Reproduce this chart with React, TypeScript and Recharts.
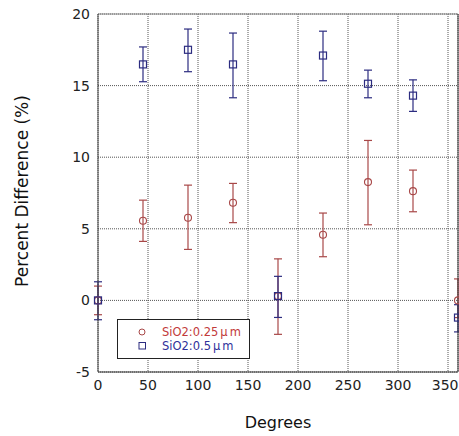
import React from 'react';
import { ScatterChart, Scatter, XAxis, YAxis, CartesianGrid, ErrorBar, Legend } from 'recharts';

const degrees = [0, 45, 90, 135, 180, 225, 270, 315, 360];
const thinValues = [0, 5.56, 5.77, 6.82, 0.3, 4.58, 8.26, 7.63, 0];
const thinHigh = [1.0, 7.0, 8.05, 8.17, 2.9, 6.1, 11.17, 9.1, 1.5];
const thinLow = [-1.0, 4.12, 3.56, 5.43, -2.37, 3.05, 5.28, 6.19, -1.2];
const thickValues = [0, 16.48, 17.5, 16.48, 0.3, 17.1, 15.13, 14.3, -1.2];
const thickHigh = [1.3, 17.7, 18.95, 18.67, 1.68, 18.8, 16.08, 15.4, -0.3];
const thickLow = [-1.35, 15.27, 15.97, 14.15, -1.19, 15.34, 14.15, 13.2, -2.2];
const xTicks = [0, 50, 100, 150, 200, 250, 300, 350];
const yTicks = [-5, 0, 5, 10, 15, 20];
const thinName = 'SiO2:0.25\u03bcm';
const thickName = 'SiO2:0.5\u03bcm';

const RED = '#a84848';
const BLUE = '#2c2c80';
const FONT = '"DejaVu Sans", sans-serif';

const build = (vals: number[], hi: number[], lo: number[]) =>
  degrees.map((d, i) => ({ x: d, y: vals[i], err: [vals[i] - lo[i], hi[i] - vals[i]] }));

const thinData = build(thinValues, thinHigh, thinLow);
const thickData = build(thickValues, thickHigh, thickLow);

const CircleShape = (p: any) => (
  <circle cx={p.cx} cy={p.cy} r={3.5} fill="none" stroke={RED} strokeWidth={1.1} />
);
const SquareShape = (p: any) => (
  <rect x={p.cx - 3.5} y={p.cy - 3.5} width={7} height={7} fill="none" stroke={BLUE} strokeWidth={1.2} />
);

const XTick = (p: any) => {
  const label = String(p.payload.value);
  const half = label.length * 0.318 * 14;
  const x = Math.min(p.x, 458.5 - half);
  return (
    <text x={x} y={p.y} dy="0.71em" textAnchor="middle" fontFamily={FONT} fontSize={14} fill="#222">
      {label}
    </text>
  );
};

const LegendBox = () => (
  <svg width={134} height={41} style={{ display: 'block' }}>
    <rect x={0.5} y={0.5} width={132} height={39} fill="#fff" stroke="#222" strokeWidth={1} />
    <circle cx={25} cy={13} r={3} fill="none" stroke={RED} strokeWidth={1} />
    <rect x={22} y={23.5} width={6.5} height={6.5} fill="none" stroke={BLUE} strokeWidth={1} />
    <text x={45} y={17} fontFamily={FONT} fontSize={11.5} fill="#c23a3a">
      SiO2:0.25<tspan dx={2}>{'\u03bc'}</tspan><tspan dx={2}>m</tspan>
    </text>
    <text x={45} y={31} fontFamily={FONT} fontSize={11.5} fill="#30309a">
      SiO2:0.5<tspan dx={2}>{'\u03bc'}</tspan><tspan dx={2}>m</tspan>
    </text>
  </svg>
);

export default function App() {
  return (
    <div style={{ position: 'absolute', left: 0, top: 0, background: '#fff' }}>
      <ScatterChart width={459} height={436} margin={{ top: 13, right: 0, bottom: 0, left: 0 }}>
        <CartesianGrid xAxisId="main" yAxisId="main" stroke="#555" strokeDasharray="1 1" />
        <XAxis
          xAxisId="main"
          type="number"
          dataKey="x"
          domain={[0, 360]}
          ticks={xTicks}
          height={64}
          axisLine={{ stroke: '#333' }}
          tickLine={false}
          tick={<XTick />}
          label={{
            content: () => (
              <text x={278} y={428} textAnchor="middle" fontFamily={FONT} fontSize={16} fill="#111">
                Degrees
              </text>
            ),
          }}
        />
        <XAxis
          xAxisId="top"
          orientation="top"
          type="number"
          domain={[0, 360]}
          ticks={xTicks}
          height={1}
          axisLine={{ stroke: '#888' }}
          tick={false}
          tickLine={false}
        />
        <YAxis
          yAxisId="main"
          type="number"
          dataKey="y"
          domain={[-5, 20]}
          ticks={yTicks}
          width={98}
          axisLine={{ stroke: '#444' }}
          tickLine={false}
          tick={{ fontSize: 14, fill: '#222', fontFamily: FONT }}
          label={{
            content: () => (
              <text
                x={28}
                y={191}
                transform="rotate(-90 28 191)"
                textAnchor="middle"
                fontFamily={FONT}
                fontSize={17}
                fill="#111"
              >
                Percent Difference (%)
              </text>
            ),
          }}
        />
        <YAxis
          yAxisId="right"
          orientation="right"
          type="number"
          domain={[-5, 20]}
          ticks={yTicks}
          width={1}
          axisLine={{ stroke: '#333' }}
          tick={false}
          tickLine={false}
        />
        <Legend
          layout="vertical"
          align="center"
          verticalAlign="middle"
          content={() => <LegendBox />}
          wrapperStyle={{ position: 'absolute', left: 117, top: 319, width: 134, height: 41 }}
        />
        <Scatter
          name={thinName}
          xAxisId="main"
          yAxisId="main"
          data={thinData}
          shape={CircleShape}
          isAnimationActive={false}
        >
          <ErrorBar dataKey="err" direction="y" width={4} stroke={RED} strokeWidth={1.2} isAnimationActive={false} />
        </Scatter>
        <Scatter
          name={thickName}
          xAxisId="main"
          yAxisId="main"
          data={thickData}
          shape={SquareShape}
          isAnimationActive={false}
        >
          <ErrorBar dataKey="err" direction="y" width={4} stroke={BLUE} strokeWidth={1.2} isAnimationActive={false} />
        </Scatter>
      </ScatterChart>
    </div>
  );
}
